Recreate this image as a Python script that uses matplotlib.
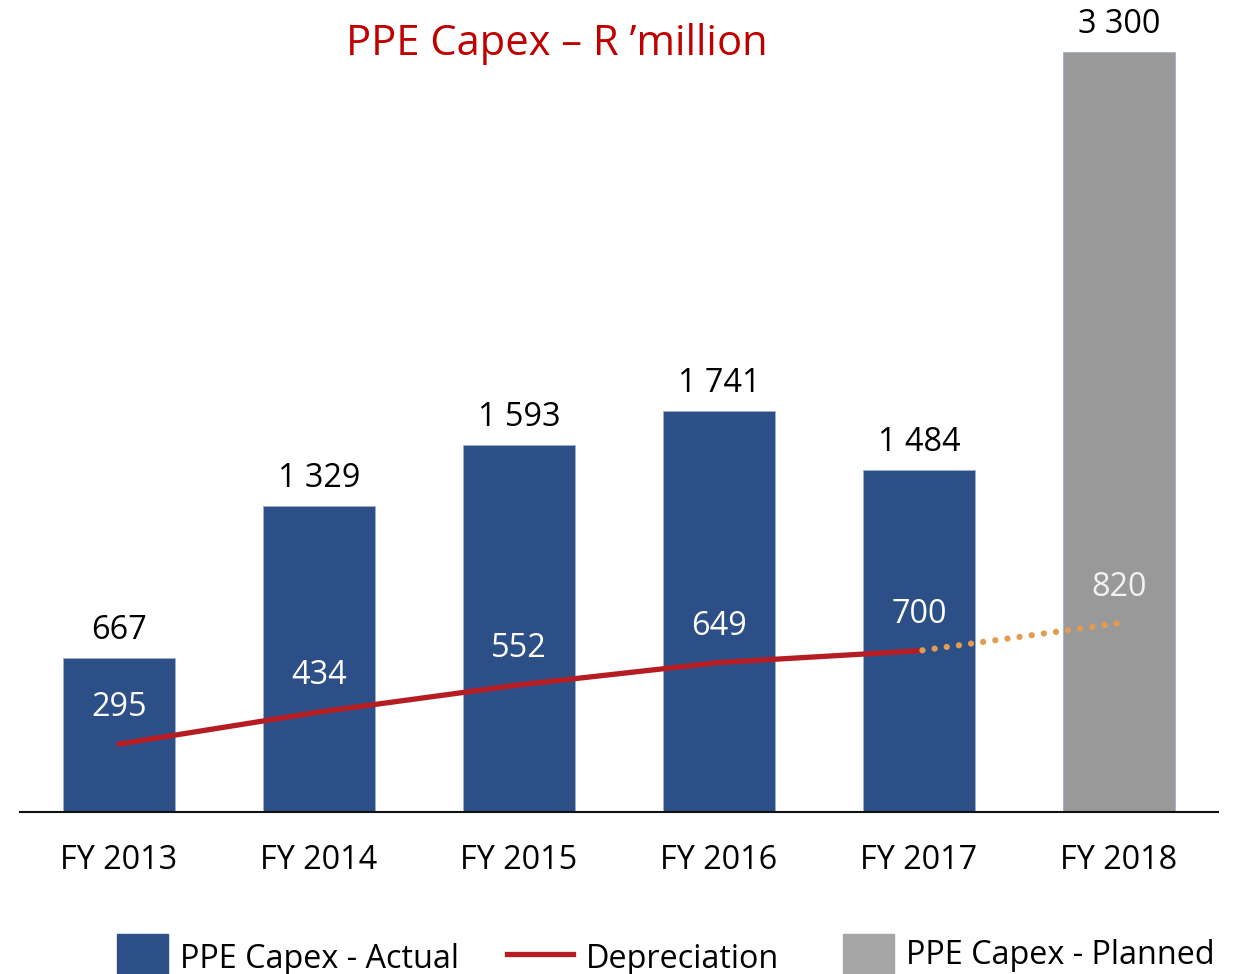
import matplotlib.pyplot as plt
from matplotlib.patches import Rectangle
from matplotlib.lines import Line2D

plt.rcParams['font.family'] = ['Open Sans', 'DejaVu Sans']

years = ["FY 2013", "FY 2014", "FY 2015", "FY 2016", "FY 2017", "FY 2018"]
capex = [667, 1329, 1593, 1741, 1484, 3300]
capex_labels = ["667", "1 329", "1 593", "1 741", "1 484", "3 300"]
planned = [False, False, False, False, False, True]
depreciation = [295, 434, 552, 649, 700, 820]
dep_forecast_from = 4  # FY 2017 onwards is a forecast

BLUE = "#2C4F88"
GREY = "#999999"
RED = "#B51D22"
ORANGE = "#E39B4F"
FS = 23.3

fig = plt.figure(figsize=(12.37, 9.74), dpi=100)
ax = fig.add_axes([20 / 1237, (974 - 812) / 974, (1218 - 20) / 1237, (812 - 52) / 974])

x = list(range(len(years)))
colors = [GREY if p else BLUE for p in planned]
ax.bar(x, capex, width=0.56, color=colors, edgecolor="#9fb0cc", linewidth=0.6, zorder=2)

for xi, v, lab in zip(x, capex, capex_labels):
    ax.annotate(lab, (xi, v), xytext=(0, 19.8), textcoords="offset points",
                ha="center", va="center", fontsize=FS, color="black")

# actual depreciation, then dotted forecast
ax.plot(x[:dep_forecast_from + 1], depreciation[:dep_forecast_from + 1],
        color=RED, lw=3.8, solid_capstyle="round", zorder=3)
ax.plot(x[dep_forecast_from:], depreciation[dep_forecast_from:],
        color=ORANGE, lw=4.5, linestyle=(1.4, (0.01, 1.95)), dash_capstyle="round", zorder=3)

for xi, v in zip(x, depreciation):
    ax.annotate(str(v), (xi, v), xytext=(0, 26), textcoords="offset points",
                ha="center", va="center", fontsize=FS,
                color="#F2F2F2" if xi == len(x) - 1 else "white")

ax.set_xlim(-0.495, 5.495)
ax.set_ylim(0, 3300)
ax.set_xticks(x)
ax.set_xticklabels(years, fontsize=FS)
ax.tick_params(axis="x", length=0, pad=23)
ax.set_yticks([])
for s in ["top", "left", "right"]:
    ax.spines[s].set_visible(False)
ax.spines["bottom"].set_linewidth(1.5)
ax.spines["bottom"].set_color("#111111")

fig.text(557 / 1237, 1 - 44 / 974, "PPE Capex \u2013 R \u2019million", color="#C00000",
         fontsize=30, ha="center", va="center")

# legend laid out along the bottom edge
fig.add_artist(Rectangle((117 / 1237, 1 - 985 / 974), 51 / 1237, 51 / 974,
                         transform=fig.transFigure, color=BLUE))
fig.text(180 / 1237, 1 - 959 / 974, "PPE Capex - Actual", fontsize=FS, va="center")
fig.add_artist(Line2D([507 / 1237, 573 / 1237], [1 - 954 / 974, 1 - 954 / 974],
                      transform=fig.transFigure, color=RED, lw=3.8))
fig.text(586 / 1237, 1 - 959 / 974, "Depreciation", fontsize=FS, va="center")
fig.add_artist(Rectangle((843 / 1237, 1 - 985 / 974), 51 / 1237, 51 / 974,
                         transform=fig.transFigure, color="#A5A5A5"))
fig.text(906 / 1237, 1 - 955 / 974, "PPE Capex - Planned", fontsize=FS, va="center")

fig.savefig("out.png", dpi=100)
